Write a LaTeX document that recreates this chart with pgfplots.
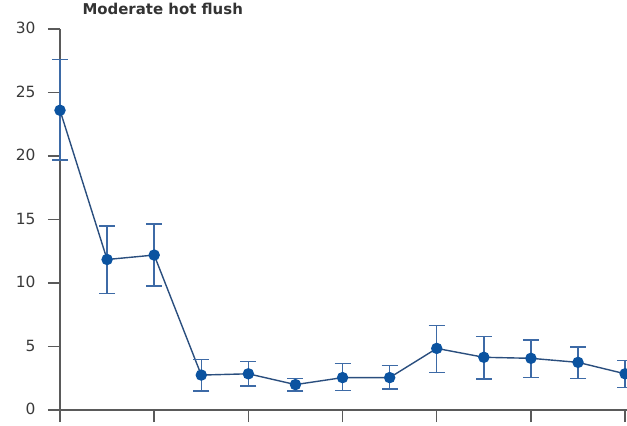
\documentclass[border=0pt]{standalone}
\usepackage{fontspec}
\setmainfont{DejaVu Sans}
\usepackage{pgfplots}
\pgfplotsset{compat=1.18}
\usetikzlibrary{calc}

\definecolor{axisgray}{HTML}{5A5A5A}
\definecolor{labelgray}{HTML}{3A3A3A}
\definecolor{markblue}{HTML}{0B53A0}
\definecolor{lineblue}{HTML}{2A4E7E}
\definecolor{barblue}{HTML}{3D6AA6}

% visit, mean, upper and lower error
\pgfplotstableread{
x  y     ep    em
0  23.6  4.0   3.9
1  11.85 2.65  2.7
2  12.2  2.45  2.45
3  2.75  1.25  1.25
4  2.85  0.95  0.95
5  2.0   0.5   0.5
6  2.55  1.1   1.0
7  2.55  0.95  0.9
8  4.85  1.8   1.9
9  4.15  1.65  1.7
10 4.07  1.43  1.5
11 3.75  1.2   1.25
12 2.85  1.05  1.1
}\hotflush

\begin{document}
\begin{tikzpicture}
\begin{axis}[
  scale only axis,
  width=567bp, height=381bp,
  xmin=0, xmax=12.04,
  ymin=0, ymax=30,
  axis x line*=bottom,
  axis y line*=left,
  axis line style={draw=axisgray, line width=1.6bp},
  xtick={0,2,...,12},
  xticklabels={},
  ytick={0,5,...,30},
  tick align=outside,
  major tick length=12bp,
  tick style={draw=axisgray, line width=1.4bp},
  yticklabel style={font=\fontsize{15.5}{17}\selectfont, text=labelgray, xshift=-9bp, yshift=1bp},
  /pgf/number format/assume math mode=true,
  clip=false,
]
\addplot[
  color=lineblue, line width=1.4bp,
  mark=*, mark size=5bp,
  mark options={fill=markblue, draw=markblue},
  error bars/.cd,
    y dir=both, y explicit,
    error bar style={color=barblue, line width=1.4bp},
    error mark options={rotate=90, mark size=8bp, color=barblue, line width=1.4bp},
] table[x=x, y=y, y error plus=ep, y error minus=em] {\hotflush};
\end{axis}
\node[anchor=base west, font=\bfseries\fontsize{15}{17}\selectfont, text=black!80]
  at ($(current axis.north west)+(19bp,14bp)$) {Moderate hot flush};
\pgfresetboundingbox
\path[use as bounding box] ($(current axis.south west)+(-60bp,-16bp)$) rectangle ($(current axis.north east)+(0bp,29bp)$);
\end{tikzpicture}
\end{document}
